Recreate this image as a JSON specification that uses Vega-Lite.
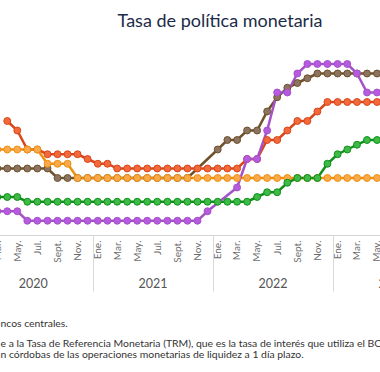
{
  "$schema": "https://vega.github.io/schema/vega-lite/v6.json",
  "width": 480,
  "height": 190,
  "autosize": {"type": "none"},
  "padding": {"left": -20, "right": -80, "top": 45, "bottom": 137},
  "background": "white",
  "title": {"text": "Tasa de política monetaria", "anchor": "middle", "offset": 0, "baseline": "alphabetic", "font": "Lato", "fontSize": 18, "fontWeight": "normal", "color": "#1c2b48"},
  "config": {"view": {"stroke": null}, "axis": {"grid": false}},
  "data": {"values": [
    {"pais": "República Dominicana", "fecha": "2020-03", "tasa": 3.5},
    {"pais": "República Dominicana", "fecha": "2020-04", "tasa": 3.5},
    {"pais": "República Dominicana", "fecha": "2020-05", "tasa": 3.5},
    {"pais": "República Dominicana", "fecha": "2020-06", "tasa": 3.5},
    {"pais": "República Dominicana", "fecha": "2020-07", "tasa": 3.5},
    {"pais": "República Dominicana", "fecha": "2020-08", "tasa": 3.5},
    {"pais": "República Dominicana", "fecha": "2020-09", "tasa": 3.0},
    {"pais": "República Dominicana", "fecha": "2020-10", "tasa": 3.0},
    {"pais": "República Dominicana", "fecha": "2020-11", "tasa": 3.0},
    {"pais": "República Dominicana", "fecha": "2020-12", "tasa": 3.0},
    {"pais": "República Dominicana", "fecha": "2021-01", "tasa": 3.0},
    {"pais": "República Dominicana", "fecha": "2021-02", "tasa": 3.0},
    {"pais": "República Dominicana", "fecha": "2021-03", "tasa": 3.0},
    {"pais": "República Dominicana", "fecha": "2021-04", "tasa": 3.0},
    {"pais": "República Dominicana", "fecha": "2021-05", "tasa": 3.0},
    {"pais": "República Dominicana", "fecha": "2021-06", "tasa": 3.0},
    {"pais": "República Dominicana", "fecha": "2021-07", "tasa": 3.0},
    {"pais": "República Dominicana", "fecha": "2021-08", "tasa": 3.0},
    {"pais": "República Dominicana", "fecha": "2021-09", "tasa": 3.0},
    {"pais": "República Dominicana", "fecha": "2021-10", "tasa": 3.0},
    {"pais": "República Dominicana", "fecha": "2022-01", "tasa": 4.5},
    {"pais": "República Dominicana", "fecha": "2022-02", "tasa": 5.0},
    {"pais": "República Dominicana", "fecha": "2022-03", "tasa": 5.0},
    {"pais": "República Dominicana", "fecha": "2022-04", "tasa": 5.5},
    {"pais": "República Dominicana", "fecha": "2022-05", "tasa": 5.5},
    {"pais": "República Dominicana", "fecha": "2022-06", "tasa": 6.5},
    {"pais": "República Dominicana", "fecha": "2022-07", "tasa": 7.25},
    {"pais": "República Dominicana", "fecha": "2022-08", "tasa": 7.75},
    {"pais": "República Dominicana", "fecha": "2022-09", "tasa": 8.0},
    {"pais": "República Dominicana", "fecha": "2022-10", "tasa": 8.25},
    {"pais": "República Dominicana", "fecha": "2022-11", "tasa": 8.5},
    {"pais": "República Dominicana", "fecha": "2022-12", "tasa": 8.5},
    {"pais": "República Dominicana", "fecha": "2023-01", "tasa": 8.5},
    {"pais": "República Dominicana", "fecha": "2023-02", "tasa": 8.5},
    {"pais": "República Dominicana", "fecha": "2023-03", "tasa": 8.5},
    {"pais": "República Dominicana", "fecha": "2023-04", "tasa": 8.5},
    {"pais": "República Dominicana", "fecha": "2023-05", "tasa": 8.5},
    {"pais": "Nicaragua", "fecha": "2020-04", "tasa": 6.0},
    {"pais": "Nicaragua", "fecha": "2020-05", "tasa": 5.5},
    {"pais": "Nicaragua", "fecha": "2020-06", "tasa": 4.5},
    {"pais": "Nicaragua", "fecha": "2020-07", "tasa": 4.5},
    {"pais": "Nicaragua", "fecha": "2020-08", "tasa": 4.25},
    {"pais": "Nicaragua", "fecha": "2020-09", "tasa": 4.25},
    {"pais": "Nicaragua", "fecha": "2020-10", "tasa": 4.25},
    {"pais": "Nicaragua", "fecha": "2020-11", "tasa": 4.25},
    {"pais": "Nicaragua", "fecha": "2020-12", "tasa": 4.0},
    {"pais": "Nicaragua", "fecha": "2021-01", "tasa": 3.75},
    {"pais": "Nicaragua", "fecha": "2021-02", "tasa": 3.75},
    {"pais": "Nicaragua", "fecha": "2021-03", "tasa": 3.5},
    {"pais": "Nicaragua", "fecha": "2021-04", "tasa": 3.5},
    {"pais": "Nicaragua", "fecha": "2021-05", "tasa": 3.5},
    {"pais": "Nicaragua", "fecha": "2021-06", "tasa": 3.5},
    {"pais": "Nicaragua", "fecha": "2021-07", "tasa": 3.5},
    {"pais": "Nicaragua", "fecha": "2021-08", "tasa": 3.5},
    {"pais": "Nicaragua", "fecha": "2021-09", "tasa": 3.5},
    {"pais": "Nicaragua", "fecha": "2021-10", "tasa": 3.5},
    {"pais": "Nicaragua", "fecha": "2021-11", "tasa": 3.5},
    {"pais": "Nicaragua", "fecha": "2021-12", "tasa": 3.5},
    {"pais": "Nicaragua", "fecha": "2022-01", "tasa": 3.5},
    {"pais": "Nicaragua", "fecha": "2022-02", "tasa": 3.5},
    {"pais": "Nicaragua", "fecha": "2022-03", "tasa": 3.5},
    {"pais": "Nicaragua", "fecha": "2022-04", "tasa": 4.0},
    {"pais": "Nicaragua", "fecha": "2022-05", "tasa": 4.0},
    {"pais": "Nicaragua", "fecha": "2022-06", "tasa": 5.0},
    {"pais": "Nicaragua", "fecha": "2022-07", "tasa": 5.0},
    {"pais": "Nicaragua", "fecha": "2022-08", "tasa": 5.5},
    {"pais": "Nicaragua", "fecha": "2022-09", "tasa": 6.0},
    {"pais": "Nicaragua", "fecha": "2022-10", "tasa": 6.0},
    {"pais": "Nicaragua", "fecha": "2022-11", "tasa": 6.5},
    {"pais": "Nicaragua", "fecha": "2022-12", "tasa": 7.0},
    {"pais": "Nicaragua", "fecha": "2023-01", "tasa": 7.0},
    {"pais": "Nicaragua", "fecha": "2023-02", "tasa": 7.0},
    {"pais": "Nicaragua", "fecha": "2023-03", "tasa": 7.0},
    {"pais": "Nicaragua", "fecha": "2023-04", "tasa": 7.0},
    {"pais": "Nicaragua", "fecha": "2023-05", "tasa": 7.0},
    {"pais": "Honduras", "fecha": "2020-03", "tasa": 4.5},
    {"pais": "Honduras", "fecha": "2020-04", "tasa": 4.5},
    {"pais": "Honduras", "fecha": "2020-05", "tasa": 4.5},
    {"pais": "Honduras", "fecha": "2020-06", "tasa": 4.5},
    {"pais": "Honduras", "fecha": "2020-07", "tasa": 4.5},
    {"pais": "Honduras", "fecha": "2020-08", "tasa": 3.75},
    {"pais": "Honduras", "fecha": "2020-09", "tasa": 3.75},
    {"pais": "Honduras", "fecha": "2020-10", "tasa": 3.75},
    {"pais": "Honduras", "fecha": "2020-11", "tasa": 3.0},
    {"pais": "Honduras", "fecha": "2020-12", "tasa": 3.0},
    {"pais": "Honduras", "fecha": "2021-01", "tasa": 3.0},
    {"pais": "Honduras", "fecha": "2021-02", "tasa": 3.0},
    {"pais": "Honduras", "fecha": "2021-03", "tasa": 3.0},
    {"pais": "Honduras", "fecha": "2021-04", "tasa": 3.0},
    {"pais": "Honduras", "fecha": "2021-05", "tasa": 3.0},
    {"pais": "Honduras", "fecha": "2021-06", "tasa": 3.0},
    {"pais": "Honduras", "fecha": "2021-07", "tasa": 3.0},
    {"pais": "Honduras", "fecha": "2021-08", "tasa": 3.0},
    {"pais": "Honduras", "fecha": "2021-09", "tasa": 3.0},
    {"pais": "Honduras", "fecha": "2021-10", "tasa": 3.0},
    {"pais": "Honduras", "fecha": "2021-11", "tasa": 3.0},
    {"pais": "Honduras", "fecha": "2021-12", "tasa": 3.0},
    {"pais": "Honduras", "fecha": "2022-01", "tasa": 3.0},
    {"pais": "Honduras", "fecha": "2022-02", "tasa": 3.0},
    {"pais": "Honduras", "fecha": "2022-03", "tasa": 3.0},
    {"pais": "Honduras", "fecha": "2022-04", "tasa": 3.0},
    {"pais": "Honduras", "fecha": "2022-05", "tasa": 3.0},
    {"pais": "Honduras", "fecha": "2022-06", "tasa": 3.0},
    {"pais": "Honduras", "fecha": "2022-07", "tasa": 3.0},
    {"pais": "Honduras", "fecha": "2022-08", "tasa": 3.0},
    {"pais": "Honduras", "fecha": "2022-09", "tasa": 3.0},
    {"pais": "Honduras", "fecha": "2022-10", "tasa": 3.0},
    {"pais": "Honduras", "fecha": "2022-11", "tasa": 3.0},
    {"pais": "Honduras", "fecha": "2022-12", "tasa": 3.0},
    {"pais": "Honduras", "fecha": "2023-01", "tasa": 3.0},
    {"pais": "Honduras", "fecha": "2023-02", "tasa": 3.0},
    {"pais": "Honduras", "fecha": "2023-03", "tasa": 3.0},
    {"pais": "Honduras", "fecha": "2023-04", "tasa": 3.0},
    {"pais": "Honduras", "fecha": "2023-05", "tasa": 3.0},
    {"pais": "Guatemala", "fecha": "2020-03", "tasa": 2.0},
    {"pais": "Guatemala", "fecha": "2020-04", "tasa": 2.0},
    {"pais": "Guatemala", "fecha": "2020-05", "tasa": 2.0},
    {"pais": "Guatemala", "fecha": "2020-06", "tasa": 1.75},
    {"pais": "Guatemala", "fecha": "2020-07", "tasa": 1.75},
    {"pais": "Guatemala", "fecha": "2020-08", "tasa": 1.75},
    {"pais": "Guatemala", "fecha": "2020-09", "tasa": 1.75},
    {"pais": "Guatemala", "fecha": "2020-10", "tasa": 1.75},
    {"pais": "Guatemala", "fecha": "2020-11", "tasa": 1.75},
    {"pais": "Guatemala", "fecha": "2020-12", "tasa": 1.75},
    {"pais": "Guatemala", "fecha": "2021-01", "tasa": 1.75},
    {"pais": "Guatemala", "fecha": "2021-02", "tasa": 1.75},
    {"pais": "Guatemala", "fecha": "2021-03", "tasa": 1.75},
    {"pais": "Guatemala", "fecha": "2021-04", "tasa": 1.75},
    {"pais": "Guatemala", "fecha": "2021-05", "tasa": 1.75},
    {"pais": "Guatemala", "fecha": "2021-06", "tasa": 1.75},
    {"pais": "Guatemala", "fecha": "2021-07", "tasa": 1.75},
    {"pais": "Guatemala", "fecha": "2021-08", "tasa": 1.75},
    {"pais": "Guatemala", "fecha": "2021-09", "tasa": 1.75},
    {"pais": "Guatemala", "fecha": "2021-10", "tasa": 1.75},
    {"pais": "Guatemala", "fecha": "2021-11", "tasa": 1.75},
    {"pais": "Guatemala", "fecha": "2021-12", "tasa": 1.75},
    {"pais": "Guatemala", "fecha": "2022-01", "tasa": 1.75},
    {"pais": "Guatemala", "fecha": "2022-02", "tasa": 1.75},
    {"pais": "Guatemala", "fecha": "2022-03", "tasa": 1.75},
    {"pais": "Guatemala", "fecha": "2022-04", "tasa": 1.75},
    {"pais": "Guatemala", "fecha": "2022-05", "tasa": 2.0},
    {"pais": "Guatemala", "fecha": "2022-06", "tasa": 2.25},
    {"pais": "Guatemala", "fecha": "2022-07", "tasa": 2.25},
    {"pais": "Guatemala", "fecha": "2022-08", "tasa": 2.75},
    {"pais": "Guatemala", "fecha": "2022-09", "tasa": 3.0},
    {"pais": "Guatemala", "fecha": "2022-10", "tasa": 3.0},
    {"pais": "Guatemala", "fecha": "2022-11", "tasa": 3.0},
    {"pais": "Guatemala", "fecha": "2022-12", "tasa": 3.75},
    {"pais": "Guatemala", "fecha": "2023-01", "tasa": 4.25},
    {"pais": "Guatemala", "fecha": "2023-02", "tasa": 4.5},
    {"pais": "Guatemala", "fecha": "2023-03", "tasa": 4.75},
    {"pais": "Guatemala", "fecha": "2023-04", "tasa": 5.0},
    {"pais": "Guatemala", "fecha": "2023-05", "tasa": 5.0},
    {"pais": "Costa Rica", "fecha": "2020-03", "tasa": 1.25},
    {"pais": "Costa Rica", "fecha": "2020-04", "tasa": 1.25},
    {"pais": "Costa Rica", "fecha": "2020-05", "tasa": 1.25},
    {"pais": "Costa Rica", "fecha": "2020-06", "tasa": 0.75},
    {"pais": "Costa Rica", "fecha": "2020-07", "tasa": 0.75},
    {"pais": "Costa Rica", "fecha": "2020-08", "tasa": 0.75},
    {"pais": "Costa Rica", "fecha": "2020-09", "tasa": 0.75},
    {"pais": "Costa Rica", "fecha": "2020-10", "tasa": 0.75},
    {"pais": "Costa Rica", "fecha": "2020-11", "tasa": 0.75},
    {"pais": "Costa Rica", "fecha": "2020-12", "tasa": 0.75},
    {"pais": "Costa Rica", "fecha": "2021-01", "tasa": 0.75},
    {"pais": "Costa Rica", "fecha": "2021-02", "tasa": 0.75},
    {"pais": "Costa Rica", "fecha": "2021-03", "tasa": 0.75},
    {"pais": "Costa Rica", "fecha": "2021-04", "tasa": 0.75},
    {"pais": "Costa Rica", "fecha": "2021-05", "tasa": 0.75},
    {"pais": "Costa Rica", "fecha": "2021-06", "tasa": 0.75},
    {"pais": "Costa Rica", "fecha": "2021-07", "tasa": 0.75},
    {"pais": "Costa Rica", "fecha": "2021-08", "tasa": 0.75},
    {"pais": "Costa Rica", "fecha": "2021-09", "tasa": 0.75},
    {"pais": "Costa Rica", "fecha": "2021-10", "tasa": 0.75},
    {"pais": "Costa Rica", "fecha": "2021-11", "tasa": 0.75},
    {"pais": "Costa Rica", "fecha": "2021-12", "tasa": 1.25},
    {"pais": "Costa Rica", "fecha": "2022-03", "tasa": 2.5},
    {"pais": "Costa Rica", "fecha": "2022-04", "tasa": 4.0},
    {"pais": "Costa Rica", "fecha": "2022-05", "tasa": 4.0},
    {"pais": "Costa Rica", "fecha": "2022-06", "tasa": 5.5},
    {"pais": "Costa Rica", "fecha": "2022-07", "tasa": 7.5},
    {"pais": "Costa Rica", "fecha": "2022-08", "tasa": 7.5},
    {"pais": "Costa Rica", "fecha": "2022-09", "tasa": 8.5},
    {"pais": "Costa Rica", "fecha": "2022-10", "tasa": 9.0},
    {"pais": "Costa Rica", "fecha": "2022-11", "tasa": 9.0},
    {"pais": "Costa Rica", "fecha": "2022-12", "tasa": 9.0},
    {"pais": "Costa Rica", "fecha": "2023-01", "tasa": 9.0},
    {"pais": "Costa Rica", "fecha": "2023-02", "tasa": 9.0},
    {"pais": "Costa Rica", "fecha": "2023-03", "tasa": 8.5},
    {"pais": "Costa Rica", "fecha": "2023-04", "tasa": 7.5},
    {"pais": "Costa Rica", "fecha": "2023-05", "tasa": 7.5}
  ]},
  "encoding": {
    "y": {"field": "tasa", "type": "quantitative", "scale": {"domain": [0, 10]}, "axis": null}
  },
  "layer": [
    {
      "mark": {"type": "line", "strokeWidth": 2.5, "clip": true},
      "encoding": {
        "x": {"field": "fecha", "timeUnit": "utcyearmonth", "type": "temporal", "bandPosition": 0.5,
          "scale": {"type": "utc", "domain": [{"year": 2020, "month": 1, "date": 24, "utc": true}, {"year": 2024, "month": 1, "date": 24, "utc": true}]},
          "axis": {
            "orient": "bottom",
            "values": [
              {"year": 2020, "month": 3, "date": 16, "utc": true}, {"year": 2020, "month": 5, "date": 16, "utc": true}, {"year": 2020, "month": 7, "date": 16, "utc": true}, {"year": 2020, "month": 9, "date": 16, "utc": true}, {"year": 2020, "month": 11, "date": 16, "utc": true},
              {"year": 2021, "month": 1, "date": 16, "utc": true}, {"year": 2021, "month": 3, "date": 16, "utc": true}, {"year": 2021, "month": 5, "date": 16, "utc": true}, {"year": 2021, "month": 7, "date": 16, "utc": true}, {"year": 2021, "month": 9, "date": 16, "utc": true}, {"year": 2021, "month": 11, "date": 16, "utc": true},
              {"year": 2022, "month": 1, "date": 16, "utc": true}, {"year": 2022, "month": 3, "date": 16, "utc": true}, {"year": 2022, "month": 5, "date": 16, "utc": true}, {"year": 2022, "month": 7, "date": 16, "utc": true}, {"year": 2022, "month": 9, "date": 16, "utc": true}, {"year": 2022, "month": 11, "date": 16, "utc": true},
              {"year": 2023, "month": 1, "date": 16, "utc": true}, {"year": 2023, "month": 3, "date": 16, "utc": true}, {"year": 2023, "month": 5, "date": 16, "utc": true}
            ],
            "labelExpr": "['Ene.','Feb.','Mar.','Abr.','May.','Jun.','Jul.','Ago.','Sept.','Oct.','Nov.','Dic.'][utcmonth(datum.value)]",
            "labelAngle": 270, "labelAlign": "right", "labelBaseline": "middle",
            "labelPadding": 5, "labelFontSize": 10, "labelColor": "#6b6b6b", "labelFont": "Lato",
            "labelFlush": false, "labelOverlap": false, "labelBound": false,
            "ticks": false, "domainColor": "#d4d4d4", "domainWidth": 1, "grid": false, "offset": 0,
            "title": "ncos centrales.",
            "titleX": 20, "titleY": 91, "titleAnchor": "start", "titleAlign": "left", "titleBaseline": "alphabetic",
            "titleFont": "Lato", "titleFontSize": 10.4, "titleFontWeight": "normal", "titleColor": "#333333", "titleAngle": 0
          }
        },
        "stroke": {"field": "pais", "type": "nominal", "legend": null,
          "scale": {"domain": ["República Dominicana", "Nicaragua", "Honduras", "Guatemala", "Costa Rica"], "range": ["#6e5029", "#d9471b", "#f0900f", "#10901a", "#a552c9"]}}
      }
    },
    {
      "mark": {"type": "point", "filled": true, "size": 48, "strokeWidth": 1, "opacity": 1, "clip": true},
      "encoding": {
        "x": {"field": "fecha", "timeUnit": "utcyearmonth", "type": "temporal", "bandPosition": 0.5,
          "axis": {
            "orient": "bottom",
            "values": [{"year": 2021, "month": 1, "date": 1, "utc": true}, {"year": 2022, "month": 1, "date": 1, "utc": true}, {"year": 2023, "month": 1, "date": 1, "utc": true}, {"year": 2024, "month": 1, "date": 1, "utc": true}],
            "labelExpr": "'' + (utcyear(datum.value) - 1)",
            "labelOffset": -60, "labelAngle": 0, "labelAlign": "center", "labelBaseline": "top",
            "labelPadding": -14, "labelFontSize": 12.5, "labelColor": "#555555", "labelFont": "Lato",
            "labelFlush": false, "labelOverlap": false, "labelBound": false,
            "ticks": true, "tickSize": 56, "tickColor": "#d9d9d9", "tickWidth": 1,
            "domain": false, "grid": false, "offset": 0,
            "title": ["e a la Tasa de Referencia Monetaria (TRM), que es la tasa de interés que utiliza el BC", "n córdobas de las operaciones monetarias de liquidez a 1 día plazo."],
            "titleX": 20, "titleY": 111.5, "titleAnchor": "start", "titleAlign": "left", "titleBaseline": "alphabetic",
            "titleFont": "Lato", "titleFontSize": 10.4, "titleFontWeight": "normal", "titleColor": "#333333", "titleLineHeight": 10.5, "titleAngle": 0
          }
        },
        "fill": {"field": "pais", "type": "nominal", "legend": null,
          "scale": {"domain": ["República Dominicana", "Nicaragua", "Honduras", "Guatemala", "Costa Rica"], "range": ["#8d7462", "#f2693c", "#f8aa4c", "#3dba47", "#b65adf"]}},
        "stroke": {"field": "pais", "type": "nominal", "legend": null}
      }
    }
  ],
  "resolve": {"axis": {"x": "independent"}}
}
